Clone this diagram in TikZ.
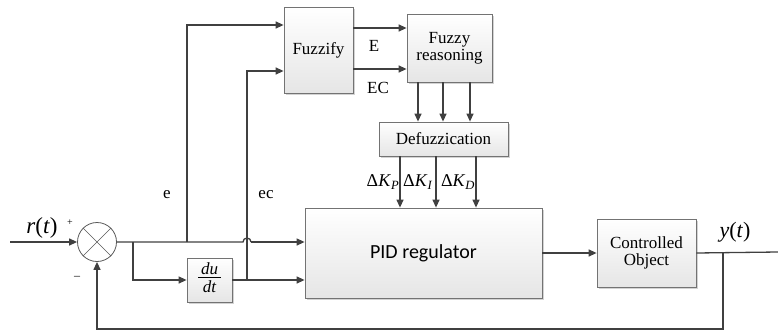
\documentclass[tikz,border=0pt]{standalone}
\usepackage{fontspec}
\setmainfont{Liberation Serif}
\newfontfamily\calfont{Carlito}
\usetikzlibrary{arrows.meta,shadows,calc}
\begin{document}
\begin{tikzpicture}[x=1pt,y=-1pt,
  blk/.style={draw=black!55, line width=0.8pt, top color=white, bottom color=black!10,
    drop shadow={shadow xshift=1.5pt,shadow yshift=-1.5pt,opacity=0.35}, inner sep=0pt, align=center,
    font=\fontsize{17}{18}\selectfont},
  ln/.style={draw=black!75, line width=1.3pt},
  arr/.style={ln, -{Triangle[length=8pt,width=7pt]}},
  lbl/.style={font=\fontsize{17}{18}\selectfont, inner sep=0pt}]
\useasboundingbox (0,0) rectangle (778,332);
\node[blk, minimum width=69pt, minimum height=86pt] (fz) at (318.5,50) {Fuzzify};
\node[blk, minimum width=85pt, minimum height=68pt] (fr) at (449.5,48) {Fuzzy\\[-1pt]reasoning};
\node[blk, minimum width=129pt, minimum height=34pt] (df) at (443.5,139) {Defuzzication};
\node[blk, minimum width=237pt, minimum height=90pt, font=\calfont\fontsize{20}{22}\selectfont] (pid) at (423.5,253) {PID regulator};
\node[blk, minimum width=99pt, minimum height=68pt] (co) at (646.5,253) {Controlled\\[-1pt]Object};
\node[blk, minimum width=45pt, minimum height=44pt, font=\fontsize{17}{18}\selectfont\itshape] (dd) at (209.5,280)
  {\begin{tabular}{@{\,}c@{\,}}du\\[-3pt]\hline\rule{0pt}{15pt}dt\end{tabular}};
\node[circle, draw=black!65, line width=0.8pt, fill=white, minimum size=39pt, inner sep=0pt] (sum) at (97,242) {};
\draw[black!65, line width=0.6pt] (sum.north west) -- (sum.south east) (sum.north east) -- (sum.south west);

% input
\coordinate (in) at (10,242);
\draw[arr] (in) -- (sum.west);
\node[lbl, font=\fontsize{23}{24}\selectfont] (rt) at (42,228) {\textit{r}(\textit{t})};
\node[lbl, font=\fontsize{10}{11}\selectfont] (plus) at (70,223) {+};
\node[lbl, font=\fontsize{12}{13}\selectfont] (minus) at (77,278) {–};

% main line with hop
\coordinate (b1) at (133,242);
\coordinate (b2) at (187,242);
\coordinate (h1) at (243,242);
\coordinate (h2) at (251,242);
\draw[ln] (sum.east) -- (h1) arc[start angle=180, end angle=0, radius=4pt];
\draw[arr] (h2) -- (pid.west |- h2);
% derivative branch
\coordinate (b1d) at (133,280);
\draw[arr] (b1) -- (b1d) -- (dd.west);
\coordinate (b3) at (247,280);
\draw[arr] (dd.east) -- (pid.west |- dd.east);
% e branch
\coordinate (e1) at (187,25);
\draw[arr] (b2) -- (e1) -- (fz.west |- e1);
% ec branch
\coordinate (ec1) at (247,71);
\draw[arr] (b3) -- (ec1) -- (fz.west |- ec1);
\node[lbl] (el) at (167,195) {e};
\node[lbl] (ecl) at (266,195) {ec};

% fuzzify -> reasoning
\coordinate (f1) at (353,28);
\coordinate (f2) at (353,69);
\draw[arr] (f1) -- (fr.west |- f1);
\draw[arr] (f2) -- (fr.west |- f2);
\node[lbl] (E) at (374,46) {E};
\node[lbl] (EC) at (378,88) {EC};

% reasoning -> defuzz
\foreach \x in {418,443,470} {
  \draw[arr] (fr.south -| \x,0) -- (df.north -| \x,0);
}
% defuzz -> pid
\foreach \x in {400,436,476} {
  \draw[arr] (df.south -| \x,0) -- (pid.north -| \x,0);
}
\node[lbl, font=\fontsize{18}{19}\selectfont] (kp) at (383,182) {Δ\textit{K}\textsubscript{\textit{P}}};
\node[lbl, font=\fontsize{18}{19}\selectfont] (ki) at (418,182) {Δ\textit{K}\textsubscript{\textit{I}}};
\node[lbl, font=\fontsize{18}{19}\selectfont] (kd) at (458,182) {Δ\textit{K}\textsubscript{\textit{D}}};

% pid -> controlled
\draw[arr] (pid.east) -- (co.west);
\coordinate (out) at (778,252);
\draw[ln] (co.east) -- (out);
\node[lbl, font=\fontsize{22}{24}\selectfont] (yt) at (735,232) {\textit{y}(\textit{t})};
% feedback
\coordinate (fb1) at (723,252);
\coordinate (fb2) at (723,329);
\coordinate (fb3) at (97,329);
\draw[arr] (fb1) -- (fb2) -- (fb3) -- (sum.south);
\end{tikzpicture}
\end{document}
